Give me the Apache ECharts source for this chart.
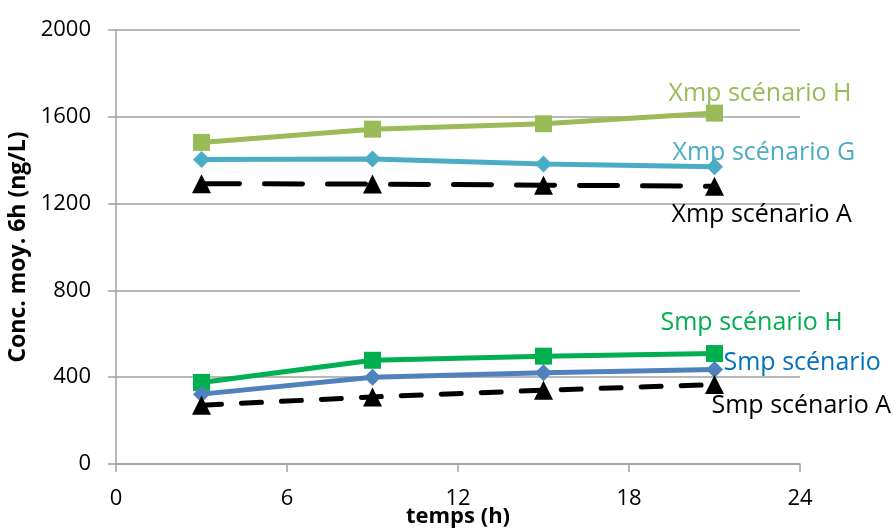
<!DOCTYPE html>
<html><head><meta charset="utf-8">
<script src="https://cdn.jsdelivr.net/npm/echarts@6/dist/echarts.min.js"></script>
<style>html,body{margin:0;padding:0;background:#fff}#c{width:894px;height:530px}</style>
</head><body><div id="c"></div>
<script>
const hours = [3, 9, 15, 21];
const xmpH = [1482, 1543, 1568, 1617];
const xmpG = [1403, 1405, 1383, 1370];
const xmpA = [1292, 1290, 1285, 1280];
const smpH = [376, 478, 497, 509];
const smpS = [322, 400, 420, 435];
const smpA = [271, 309, 340, 366];
const yTicks = [0, 400, 800, 1200, 1600, 2000];
const xTicks = [0, 6, 12, 18, 24];
const names = ['Xmp scénario H','Xmp scénario G','Xmp scénario A','Smp scénario H','Smp scénario','Smp scénario A'];

const FONT = 'Open Sans';
function pts(v){ return hours.map((h,i)=>[h,v[i]]); }
function lastLabel(data, txt, color, offset){
  return data.map((d,i)=> i===data.length-1 ? {value:d, label:{show:true, formatter:txt, color:color, fontSize:25, fontFamily:FONT, position:'inside', align:'left', verticalAlign:'middle', offset:offset}} : {value:d});
}
function mk(name, vals, color, lineColor, symbol, size, dash, labColor, offset, z){
  return {
    name, type:'line', z:z, data: lastLabel(pts(vals), name, labColor, offset),
    symbol, symbolSize:size,
    lineStyle:{color:lineColor, width:5, type: dash ? dash : 'solid', cap: dash ? 'round' : 'butt'},
    itemStyle:{color:color}, emphasis:{disabled:true}, animation:false
  };
}
const chart = echarts.init(document.getElementById('c'));
chart.setOption({
  animation:false,
  grid:{left:116, right:94, top:30, bottom:66, containLabel:false, outerBoundsMode:'none'},
  xAxis:{type:'value', min:0, max:24, interval:6,
    name:'temps (h)', nameLocation:'middle', nameGap:42, nameMoveOverlap:false,
    nameTextStyle:{fontFamily:FONT, fontWeight:'bold', fontSize:22, color:'#000'},
    axisLine:{lineStyle:{color:'#a0a0a0', width:1.5}},
    axisTick:{show:true, length:8, lineStyle:{color:'#a0a0a0', width:1.5}},
    axisLabel:{fontFamily:FONT, fontSize:22, color:'#000', margin:24, formatter:v=>String(v)},
    splitLine:{show:false}},
  yAxis:{type:'value', min:0, max:2000, interval:400,
    name:'Conc. moy. 6h (ng/L)', nameLocation:'middle', nameGap:86, nameMoveOverlap:false,
    nameTextStyle:{fontFamily:FONT, fontWeight:'bold', fontSize:23, color:'#000'},
    axisLine:{show:true, lineStyle:{color:'#a0a0a0', width:1.5}},
    axisTick:{show:true, length:8, lineStyle:{color:'#a0a0a0', width:1.5}},
    axisLabel:{fontFamily:FONT, fontSize:22, color:'#000', margin:25, formatter:v=>String(v)},
    splitLine:{show:true, lineStyle:{color:'#a0a0a0', width:1.5}}},
  series:[
    mk(names[0], xmpH, '#9BBB59', '#9BBB59', 'rect', 17, null, '#9BBB59', [-46,-19], 3),
    mk(names[1], xmpG, '#4BACC6', '#4BACC6', 'diamond', 17, null, '#4BACC6', [-42,-14], 3),
    mk(names[2], xmpA, '#000', '#000', 'triangle', 19, [38,25], '#000', [-43,29], 4),
    mk(names[3], smpH, '#00B050', '#00B050', 'rect', 17, null, '#00B050', [-54,-31], 3),
    mk(names[4], smpS, '#4F81BD', '#4F81BD', 'diamond', 17, null, '#0070C0', [9,-7], 3),
    mk(names[5], smpA, '#000', '#000', 'triangle', 19, [20,20], '#000', [-3,21], 4)
  ]
});
</script></body></html>
